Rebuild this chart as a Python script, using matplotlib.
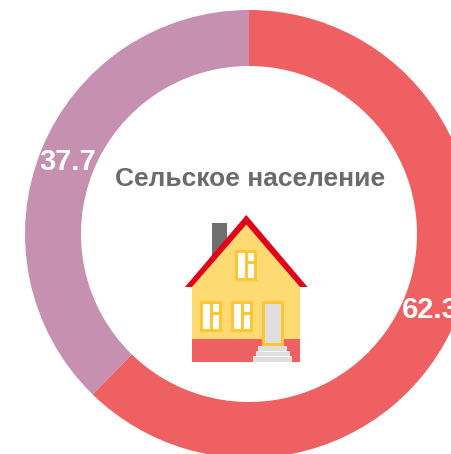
import matplotlib
matplotlib.use('Agg')
import matplotlib.pyplot as plt
from matplotlib.patches import Polygon, Rectangle

# данные
labels = ['62.3', '37.7']
values = [62.3, 37.7]
colors = ['#ee6061', '#c690b0']
title = 'Сельское население'

plt.rcParams['font.family'] = ['Liberation Sans', 'DejaVu Sans']

fig = plt.figure(figsize=(4.51, 4.54), dpi=100)
ax = fig.add_axes([0, 0, 1, 1])

# ось y перевернута, поэтому сектора идут по часовой стрелке от верха
ax.pie(values, colors=colors, startangle=-90, counterclock=True,
       center=(249, 234), radius=224,
       wedgeprops={'width': 56, 'linewidth': 0})
ax.set_xlim(0, 451)
ax.set_ylim(454, 0)
ax.set_aspect('auto')
ax.axis('off')

ax.text(68, 161.5, labels[1], color='white', fontsize=21, fontweight='bold',
        ha='center', va='center')
ax.text(402, 310.5, labels[0], color='white', fontsize=21, fontweight='bold',
        ha='left', va='center')
ax.text(250, 178.5, title, color='#6b6b6b', fontsize=19, fontweight='bold',
        ha='center', va='center')


def rect(x0, y0, x1, y1, color):
    ax.add_patch(Rectangle((x0, y0), x1 - x0, y1 - y0, facecolor=color, linewidth=0))


def window(x, y):
    rect(x, y, x + 22, y + 31, '#ffc532')
    rect(x + 3, y + 3, x + 10, y + 28, 'white')
    rect(x + 13, y + 3, x + 19, y + 11, 'white')
    rect(x + 13, y + 14, x + 19, y + 28, 'white')


# домик
rect(212, 223, 227, 258, '#6f6f6f')
ax.add_patch(Polygon([(192, 287), (246, 222), (300, 287), (300, 340), (192, 340)],
                     facecolor='#fedb72', linewidth=0))
rect(192, 339, 300, 362, '#ee6061')
ax.add_patch(Polygon([(185, 287), (246.3, 215), (307.5, 287), (300, 287), (246.3, 224.5), (192, 287)],
                     facecolor='#e2001a', linewidth=0))
window(235, 250)
window(200, 301)
window(231, 301)
rect(262, 301, 284, 346, '#ffc532')
rect(265, 304, 281, 343, '#e0dfdd')
rect(258, 346, 287, 351, '#e0dfdd')
rect(256, 351, 290, 356, '#e0dfdd')
rect(253, 356, 292, 362, '#e0dfdd')
ax.plot([258, 287], [351, 351], color='white', linewidth=0.6)
ax.plot([256, 290], [356, 356], color='white', linewidth=0.6)

fig.savefig('out.png', dpi=100)
